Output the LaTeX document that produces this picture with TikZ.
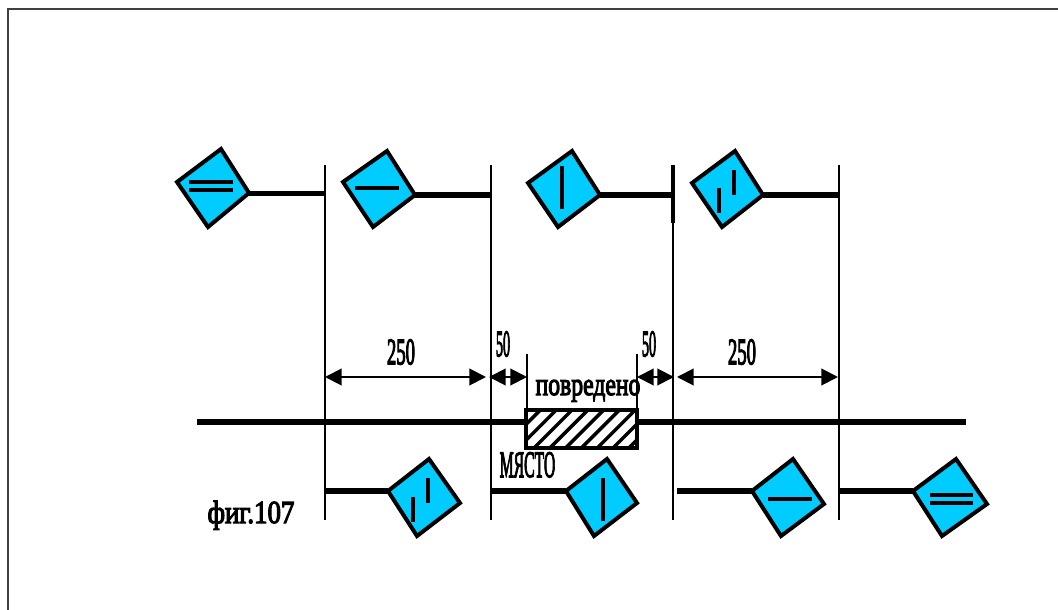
\documentclass[tikz,border=0pt]{standalone}
\usepackage{graphicx}
\usepackage{fontspec}
\setmainfont{Liberation Serif}
\newfontfamily\heavy[FakeBold=4]{Liberation Serif}
\usetikzlibrary{arrows.meta}
\definecolor{flagblue}{RGB}{0,204,255}
\tikzset{
  x=0.75pt,y=-0.75pt,
  frameline/.style={draw=black!75,line width=1.6pt},
  guide/.style={draw=black,line width=1.5pt},
  thick line/.style={draw=black,line width=3.8pt},
  stem/.style={draw=black,line width=3.8pt},
  flag/.style={draw=black,line width=3pt,fill=flagblue,line join=miter},
  mark line/.style={draw=black,line width=2.5pt},
  dim/.style={draw=black,line width=1.5pt,{Triangle[length=12.5pt,width=12.5pt]}-{Triangle[length=12.5pt,width=12.5pt]}},
  lbl/.style={inner sep=0pt,font=\fontsize{28}{28}\heavy},
}
\begin{document}
\begin{tikzpicture}
\useasboundingbox (0,0) rectangle (1058,610);
% frame
\draw[frameline] (8,610) -- (8,9) -- (1058,9);
% guides
\coordinate (g1t) at (324.5,165); \coordinate (g1b) at (324.5,520);
\coordinate (g2t) at (490.5,165); \coordinate (g2b) at (490.5,520);
\coordinate (g3t) at (672.5,165); \coordinate (g3b) at (672.5,520);
\coordinate (g4t) at (838.5,165); \coordinate (g4b) at (838.5,520);
\draw[guide] (g1t)--(g1b); \draw[guide] (g2t)--(g2b);
\draw[guide] (g3t)--(g3b); \draw[guide] (g4t)--(g4b);
\draw[draw=black,line width=3pt] (672.5,165)--(672.5,223);
% main line
\coordinate (mainL) at (197,422); \coordinate (mainR) at (966,422);
\draw[thick line] (mainL)--(mainR);
% damaged section
\fill[white] (526,410) rectangle (637,448);
\begin{scope}
\clip (526,410) rectangle (637,448);
\foreach \i in {-3,...,8}{\draw[black,line width=2.6pt] (530+\i*15.8,452)--(530+\i*15.8+44,408);}
\end{scope}
\node[draw=black,line width=2.8pt,minimum width=83pt,minimum height=28.5pt,inner sep=0pt] (damage) at (581.5,429) {};
\coordinate (e1) at (526.5,354); \coordinate (e2) at (636.5,354);
\coordinate (e1b) at (526.5,410); \coordinate (e2b) at (636.5,410);
\draw[guide] (e1)--(e1b); \draw[guide] (e2)--(e2b);
% dimensions
\coordinate (d1) at (325,377); \coordinate (d2) at (486,377);
\coordinate (d3) at (489,377); \coordinate (d4) at (527,377);
\coordinate (d5) at (637,377); \coordinate (d6) at (674,377);
\coordinate (d7) at (677,377); \coordinate (d8) at (838,377);
\draw[dim] (d1)--(d2); \draw[dim] (d3)--(d4); \draw[dim] (d5)--(d6); \draw[dim] (d7)--(d8);
% labels
\node[lbl] (t1) at (401,352) {\scalebox{0.5}[1]{250}};
\node[lbl] (t2) at (503,344) {\scalebox{0.38}[1]{50}};
\node[lbl] (t3) at (649,344) {\scalebox{0.38}[1]{50}};
\node[lbl] (t4) at (742,352) {\scalebox{0.5}[1]{250}};
\node[lbl,font=\fontsize{24}{24}\heavy,anchor=base] (t5) at (588,395) {\scalebox{0.74}[1]{повредено}};
\node[lbl,anchor=base] (t6) at (527.5,477) {\scalebox{0.42}[1]{МЯСТО}};
\node[lbl,font=\fontsize{24}{24}\heavy,anchor=base] (t7) at (251,523) {\scalebox{0.84}[1]{фиг.107}};
% top flags
\draw[flag] (249,193)--(221,149)--(177,182)--(208,227)--cycle;
\draw[mark line] (189,182)--(233,182); \draw[mark line] (189,190)--(233,190);
\draw[stem] (249,193.5)--(324.5,193.5);
\draw[flag] (415,195)--(387,151)--(343,182)--(373,227)--cycle;
\draw[mark line] (355,188)--(399,188);
\draw[stem] (415,195)--(490.5,195);
\draw[flag] (600,195)--(572,151)--(528,183)--(558,227)--cycle;
\draw[mark line] (562,166)--(562,209);
\draw[stem] (600,195)--(672.5,195);
\draw[flag] (763,195)--(735,151)--(692,183)--(722,227)--cycle;
\draw[mark line] (734,170)--(734,195); \draw[mark line] (719,188)--(719,213);
\draw[stem] (763,195)--(838.5,195);
% bottom flags
\draw[stem] (324.5,491)--(388,491);
\draw[flag] (388,491)--(429,459)--(460,503)--(417,536)--cycle;
\draw[mark line] (428,478)--(428,503); \draw[mark line] (413,497)--(413,522);
\draw[stem] (490.5,491)--(566,491);
\draw[flag] (566,491)--(607,459)--(637,503)--(594,536)--cycle;
\draw[mark line] (603,478)--(603,521);
\draw[stem] (677,491)--(752,491);
\draw[flag] (752,491)--(793,459)--(824,504)--(781,536)--cycle;
\draw[mark line] (768,499)--(812,499);
\draw[stem] (840,491)--(913,491);
\draw[flag] (913,491)--(956,459)--(987,504)--(942,536)--cycle;
\draw[mark line] (930,495)--(973,495); \draw[mark line] (930,503)--(973,503);
\end{tikzpicture}
\end{document}
